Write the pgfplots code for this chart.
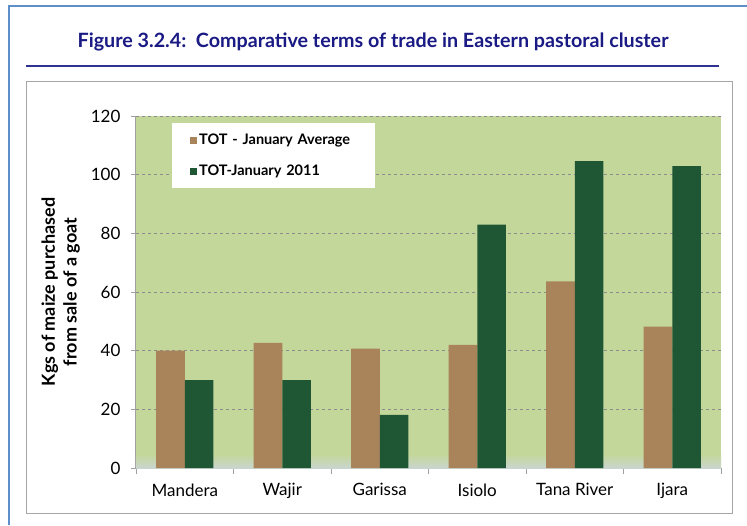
\documentclass[border=0pt]{standalone}
\usepackage{pgfplots}
\pgfplotsset{compat=1.18}
\usepackage{fontspec}
\setmainfont{Lato}
\definecolor{tanbar}{HTML}{A9835A}
\definecolor{greenbar}{HTML}{1F5634}
\definecolor{plotbg}{HTML}{C4D79B}
\definecolor{bandc}{HTML}{C9D5CF}
\definecolor{navy}{HTML}{1A1A85}
\definecolor{rulec}{HTML}{2E3192}
\definecolor{borderc}{HTML}{5E8FCB}
\definecolor{gridc}{HTML}{8C8C8C}
\definecolor{axisc}{HTML}{A0A0A0}
\begin{document}
\begin{tikzpicture}[x=1pt,y=1pt]
\useasboundingbox (0,0) rectangle (747,-525);
\fill[white] (0,0) rectangle (747,-525);
% page borders
\draw[borderc, line width=2.5pt] (9,-525) -- (9,-6) -- (747,-6);
% title
\node[font=\fontsize{19.7}{22}\selectfont\bfseries, text=navy] at (373,-42) {Figure 3.2.4:\ \ Comparative terms of trade in Eastern pastoral cluster};
\draw[rulec, line width=2pt] (26,-66) -- (719,-66);
% chart frame
\draw[gray!70, line width=0.8pt] (26,-81) rectangle (732,-513);
\begin{axis}[
  at={(136pt,-468pt)}, anchor=south west,
  scale only axis, width=585pt, height=352pt,
  xmin=-0.5, xmax=5.5, ymin=0, ymax=120,
  ytick={0,20,...,120},
  xtick={0,...,5},
  xticklabels={Mandera,Wajir,Garissa,Isiolo,Tana River,Ijara},
  minor xtick={-0.5,0.5,...,5.5},
  major x tick style={draw=none},
  minor x tick style={axisc, line width=0.8pt},
  minor tick length=6pt,
  y tick style={axisc, line width=0.8pt},
  major tick length=5pt,
  tick align=outside,
  axis x line*=bottom, axis y line*=left,
  axis line style={axisc, line width=1pt},
  ymajorgrids, grid style={gridc, dashed, line width=0.6pt},
  axis background/.style={fill=plotbg},
  /pgf/number format/assume math mode=true,
  ticklabel style={font=\fontsize{17}{19}\selectfont, text=black},
  xticklabel style={yshift=-7pt},
  yticklabel style={xshift=-7pt},
  ylabel={\shortstack{Kgs of maize purchased\\[2pt]from sale of a goat}},
  ylabel style={font=\fontsize{18}{19}\selectfont\bfseries, at={(axis description cs:-0.09,0.5)}, anchor=south},
  ybar, bar width=0.293,
  legend style={at={(axis description cs:0.0615,0.98)}, anchor=north west, draw=none, fill=white,
    font=\fontsize{14.5}{16}\selectfont\bfseries, inner xsep=18pt, inner ysep=9pt, row sep=15pt,
    text width=156pt},
  legend cell align=left,
]
\fill[top color=plotbg, bottom color=bandc] (axis cs:-0.5,0) rectangle (axis cs:5.5,4.5);
\addplot[fill=tanbar, draw=none, bar shift=-0.1465, legend image code/.code={\fill[tanbar] (0pt,-3.5pt) rectangle (7pt,3.5pt);}]
  coordinates {(0,40) (1,42.7) (2,40.7) (3,42) (4,63.6) (5,48.2)};
\addlegendentry{TOT - January Average}
\addplot[fill=greenbar, draw=none, bar shift=0.1465, legend image code/.code={\fill[greenbar] (0pt,-3.5pt) rectangle (7pt,3.5pt);}]
  coordinates {(0,30) (1,30) (2,18.1) (3,83) (4,104.6) (5,102.9)};
\addlegendentry{TOT-January 2011}
\end{axis}
\end{tikzpicture}
\end{document}
